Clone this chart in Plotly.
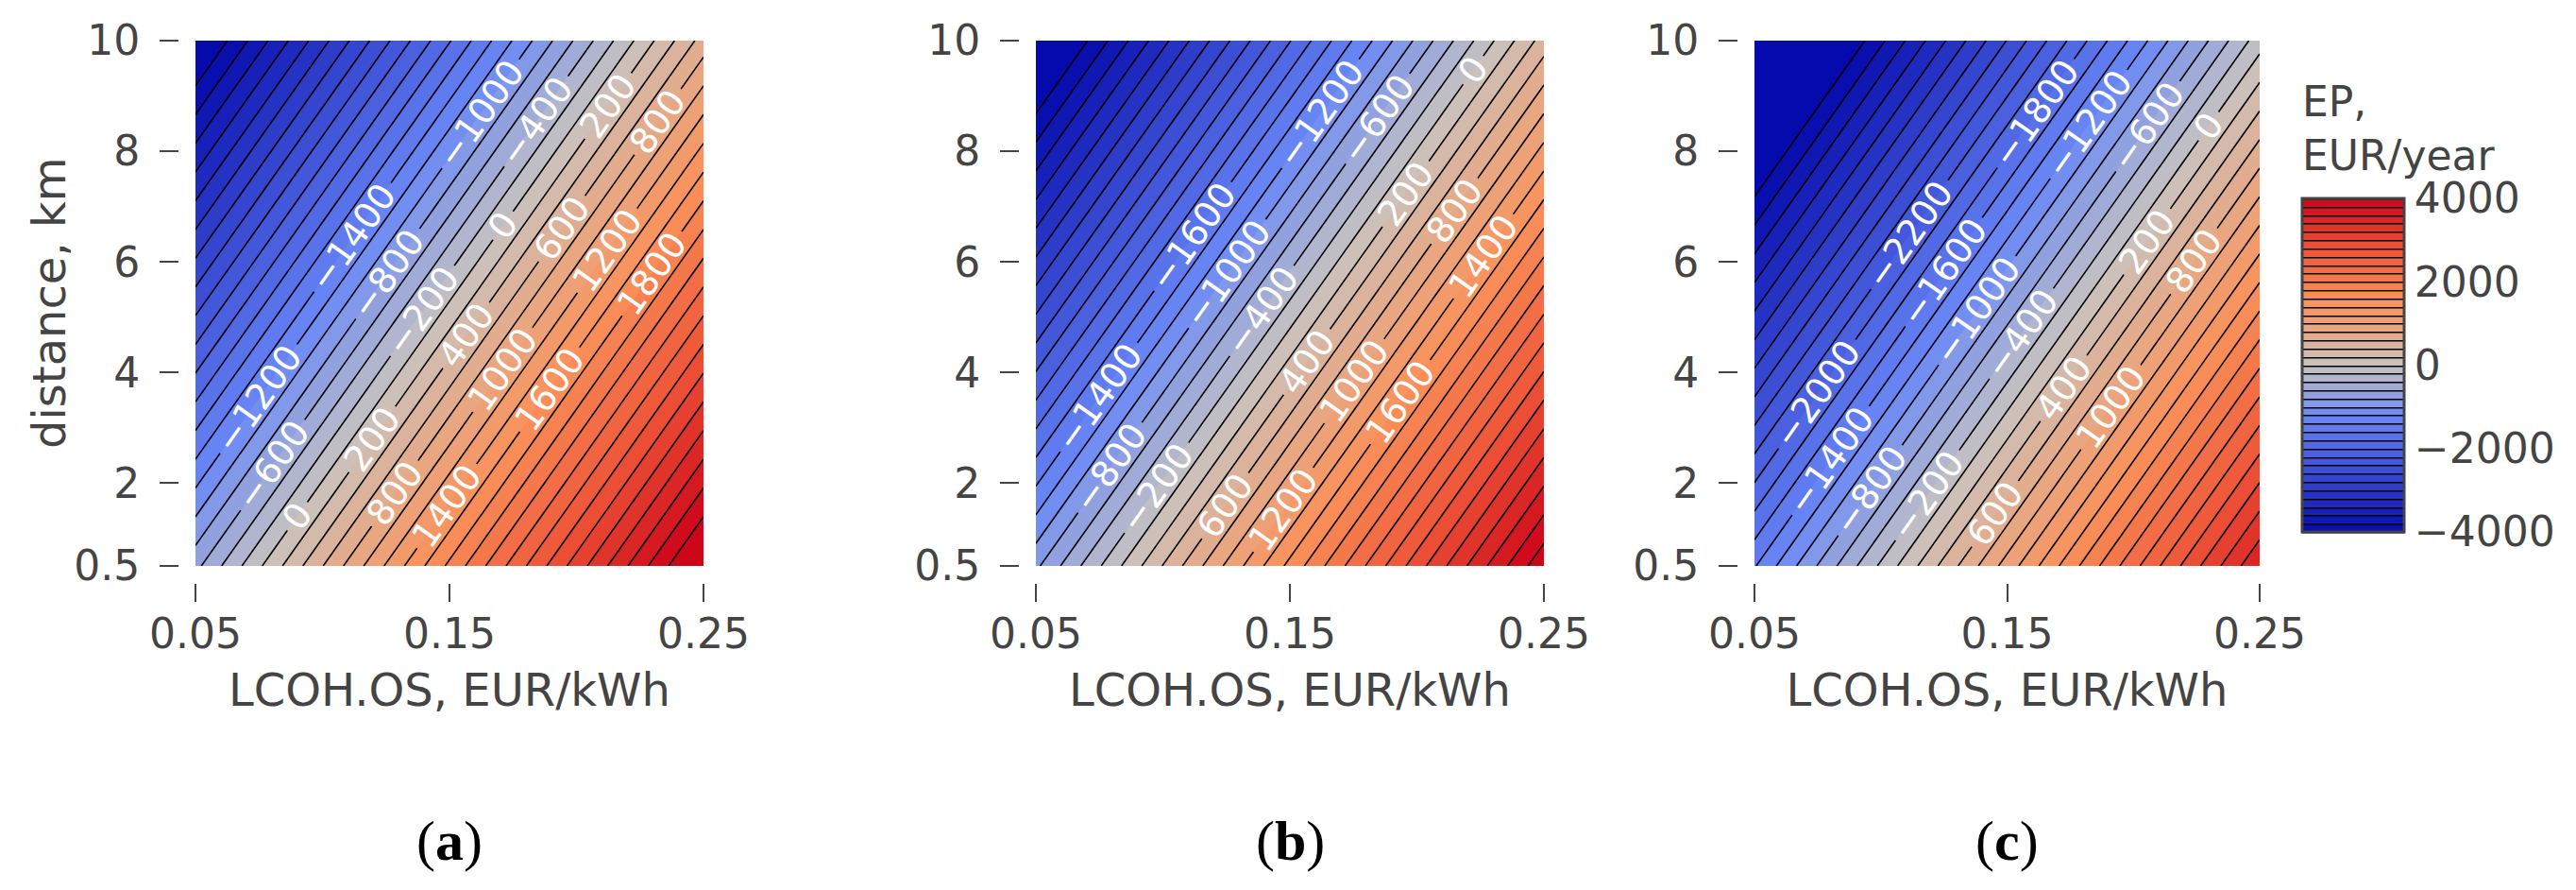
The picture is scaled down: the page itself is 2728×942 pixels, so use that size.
import plotly.graph_objects as go

# ---- data ----
lcoh = [0.05, 0.10, 0.15, 0.20, 0.25]          # LCOH.OS, EUR/kWh
dist = [0.5, 2, 4, 6, 8, 10]                    # distance, km

ep_a = [
    [-658, 593, 1843, 3093, 4343],
    [-1235, 15, 1265, 2515, 3765],
    [-2005, -755, 495, 1745, 2995],
    [-2775, -1525, -275, 975, 2225],
    [-3545, -2295, -1045, 205, 1455],
    [-4315, -3065, -1815, -565, 685],
]
ep_b = [
    [-843, 407, 1657, 2907, 4157],
    [-1422, -172, 1078, 2328, 3578],
    [-2194, -944, 306, 1556, 2806],
    [-2966, -1716, -466, 784, 2034],
    [-3738, -2488, -1238, 12, 1262],
    [-4510, -3260, -2010, -760, 490],
]
ep_c = [
    [-1417, -167, 1084, 2334, 3584],
    [-1997, -747, 503, 1753, 3003],
    [-2771, -1521, -271, 979, 2229],
    [-3545, -2295, -1045, 205, 1455],
    [-4319, -3069, -1819, -569, 681],
    [-5093, -3843, -2593, -1343, -93],
]
panel_labels = ["a", "b", "c"]
x_ticks = [0.05, 0.15, 0.25]
x_tick_text = ["0.05", "0.15", "0.25"]
y_ticks = [0.5, 2, 4, 6, 8, 10]
y_tick_text = ["0.5", "2", "4", "6", "8", "10"]
cbar_ticks = [-4000, -2000, 0, 2000, 4000]

# ---- styling ----
# the page body keeps the browser's default 8px margin, so the figure is
# made 8px smaller and every target pixel position is shifted by 8px
OFF = 8
W, H = 2728 - OFF, 942 - OFF
FONT = "DejaVu Sans"
TXT = "#444444"
colorscale = [
    [0.0, "rgb(5,10,172)"],
    [0.35, "rgb(106,137,247)"],
    [0.5, "rgb(200,195,192)"],
    [0.6, "rgb(230,170,135)"],
    [0.7, "rgb(250,145,90)"],
    [0.85, "rgb(238,85,55)"],
    [1.0, "rgb(205,5,25)"],
]

# plot areas in window pixels (left, right), common top/bottom
panels_px = [(207, 745), (1097, 1635), (1858, 2393)]
top_px, bot_px = 43, 599
gap = 18


def px_x(p):
    return (p - OFF) / W


def px_y(p):
    return 1 - (p - OFF) / H


fig = go.Figure()
datasets = [ep_a, ep_b, ep_c]
for i, z in enumerate(datasets):
    xa = "x" if i == 0 else f"x{i+1}"
    ya = "y" if i == 0 else f"y{i+1}"
    tr = go.Contour(
        x=lcoh, y=dist, z=z,
        xaxis=xa, yaxis=ya,
        zmin=-4000, zmax=4000,
        autocontour=False,
        contours=dict(start=-4000, end=4000, size=200, coloring="fill",
                      showlabels=True,
                      labelfont=dict(family=FONT, size=38, color="white")),
        line=dict(color="black", width=1.6),
        colorscale=colorscale,
        showscale=(i == 2),
        hoverinfo="skip",
    )
    if i == 2:
        tr.colorbar = dict(
            x=px_x(2438), xanchor="left", xpad=0,
            y=px_y(563), yanchor="bottom", ypad=0,
            lenmode="pixels", len=353,
            thickness=108, thicknessmode="pixels",
            outlinewidth=3, outlinecolor=TXT,
            tickvals=cbar_ticks, ticks="",
            tickfont=dict(family=FONT, size=44, color=TXT),
        )
    fig.add_trace(tr)

layout = dict(
    width=W, height=H,
    margin=dict(l=0, r=0, t=0, b=0, autoexpand=False),
    paper_bgcolor="white", plot_bgcolor="white",
    font=dict(family=FONT, color=TXT),
    showlegend=False,
)
for i, (l, r) in enumerate(panels_px):
    xk = "xaxis" if i == 0 else f"xaxis{i+1}"
    yk = "yaxis" if i == 0 else f"yaxis{i+1}"
    layout[xk] = dict(
        domain=[px_x(l), px_x(r)], range=[0.05, 0.25],
        anchor="free", position=px_y(bot_px + gap),
        automargin=False,
        showgrid=False, zeroline=False, showline=False,
        ticks="outside", ticklen=19, tickwidth=2, tickcolor=TXT,
        tickvals=x_ticks, ticktext=x_tick_text,
        tickfont=dict(family=FONT, size=44, color=TXT),
        ticklabelstandoff=-4,
        title=dict(text="LCOH.OS, EUR/kWh", standoff=18,
                   font=dict(family=FONT, size=48, color=TXT)),
    )
    layout[yk] = dict(
        domain=[px_y(bot_px), px_y(top_px)], range=[0.5, 10],
        anchor="free", position=px_x(l - gap),
        automargin=False,
        showgrid=False, zeroline=False, showline=False,
        ticks="outside", ticklen=20, tickwidth=2, tickcolor=TXT,
        tickvals=y_ticks, ticktext=y_tick_text,
        tickfont=dict(family=FONT, size=44, color=TXT),
        ticklabelstandoff=12,
    )
fig.update_layout(**layout)

# y-axis title of the first panel
fig.add_annotation(
    x=px_x(52), y=px_y((top_px + bot_px) / 2), xref="paper", yref="paper",
    text="distance, km", textangle=-90, showarrow=False,
    xanchor="center", yanchor="middle",
    font=dict(family=FONT, size=48, color=TXT),
)

# colorbar title
fig.add_annotation(
    x=px_x(2436), y=px_y(80), xref="paper", yref="paper",
    xanchor="left", yanchor="top", align="left", showarrow=False,
    text="EP,<br>EUR/year",
    font=dict(family=FONT, size=44, color=TXT),
)

for i, (l, r) in enumerate(panels_px):
    fig.add_annotation(
        x=px_x((l + r) / 2), y=px_y(890), xref="paper", yref="paper",
        text=f"(<b>{panel_labels[i]}</b>)", showarrow=False,
        font=dict(family="Liberation Serif", size=60, color="black"),
        xanchor="center", yanchor="middle",
    )

fig.write_html("out.html")
